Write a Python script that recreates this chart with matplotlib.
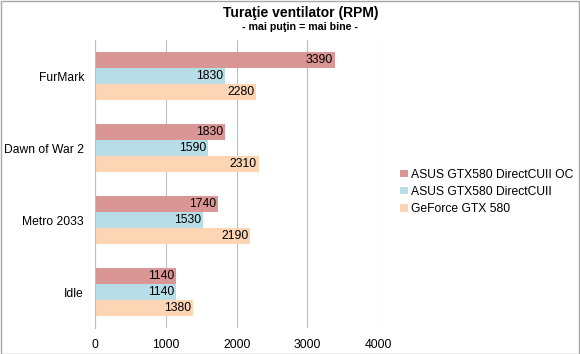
import matplotlib
matplotlib.use("Agg")
import matplotlib.pyplot as plt
import numpy as np

plt.rcParams['font.family'] = ['Liberation Sans', 'DejaVu Sans']

categories = ["FurMark", "Dawn of War 2", "Metro 2033", "Idle"]
series_names = ["ASUS GTX580 DirectCUII OC", "ASUS GTX580 DirectCUII", "GeForce GTX 580"]
oc_values = [3390, 1830, 1740, 1140]
dcu_values = [1830, 1590, 1530, 1140]
ref_values = [2280, 2310, 2190, 1380]
colors = ["#D99694", "#B7DEE8", "#FCD5B5"]
xticks = [0, 1000, 2000, 3000, 4000]

fig = plt.figure(figsize=(5.8, 3.54), dpi=100)
ax = fig.add_axes([0.164, 0.0734, 0.488, 0.813])

bh = 0.222
ypos = np.arange(len(categories))
series = [oc_values, dcu_values, ref_values]
for i, (vals, c, name) in enumerate(zip(series, colors, series_names)):
    y = ypos + (i - 1) * bh
    bars = ax.barh(y, vals, height=bh, color=c, label=name, zorder=2)
    for b, v in zip(bars, vals):
        ax.text(v - 25, b.get_y() + b.get_height() / 2, str(v), ha='right', va='center',
                fontsize=8.7, color='#000000', zorder=3)

ax.set_xlim(0, 4000)
ax.set_ylim(len(categories) - 0.5, -0.5)
ax.set_xticks(xticks)
ax.set_xticklabels([str(t) for t in xticks], fontsize=8.7)
ax.set_yticks(ypos)
ax.set_yticklabels(categories, fontsize=8.7)
ax.tick_params(axis='both', length=0, pad=8)
ax.tick_params(axis='y', pad=8)
ax.grid(axis='x', color='#BFBFBF', linewidth=0.8, zorder=0)
for s in ['top', 'right', 'bottom']:
    ax.spines[s].set_visible(False)
ax.spines['left'].set_color('#BFBFBF')
ax.spines['left'].set_linewidth(0.8)

fig.text(0.518, 0.962, "Turaţie ventilator (RPM)", ha='center', va='center', fontsize=10, fontweight='bold')
fig.text(0.518, 0.925, "- mai puţin = mai bine -", ha='center', va='center', fontsize=7.7, fontweight='bold')

leg = fig.legend(loc='center left', bbox_to_anchor=(0.68, 0.458), frameon=False, fontsize=8.7,
                 handlelength=0.6, handleheight=0.6, handletextpad=0.3, labelspacing=0.42, borderpad=0)

fig.patches.append(matplotlib.patches.Rectangle((0.001, 0.001), 0.997, 0.996, transform=fig.transFigure,
                                                fill=False, edgecolor='#A6A6A6', linewidth=1))

fig.savefig("out.png", dpi=100)
